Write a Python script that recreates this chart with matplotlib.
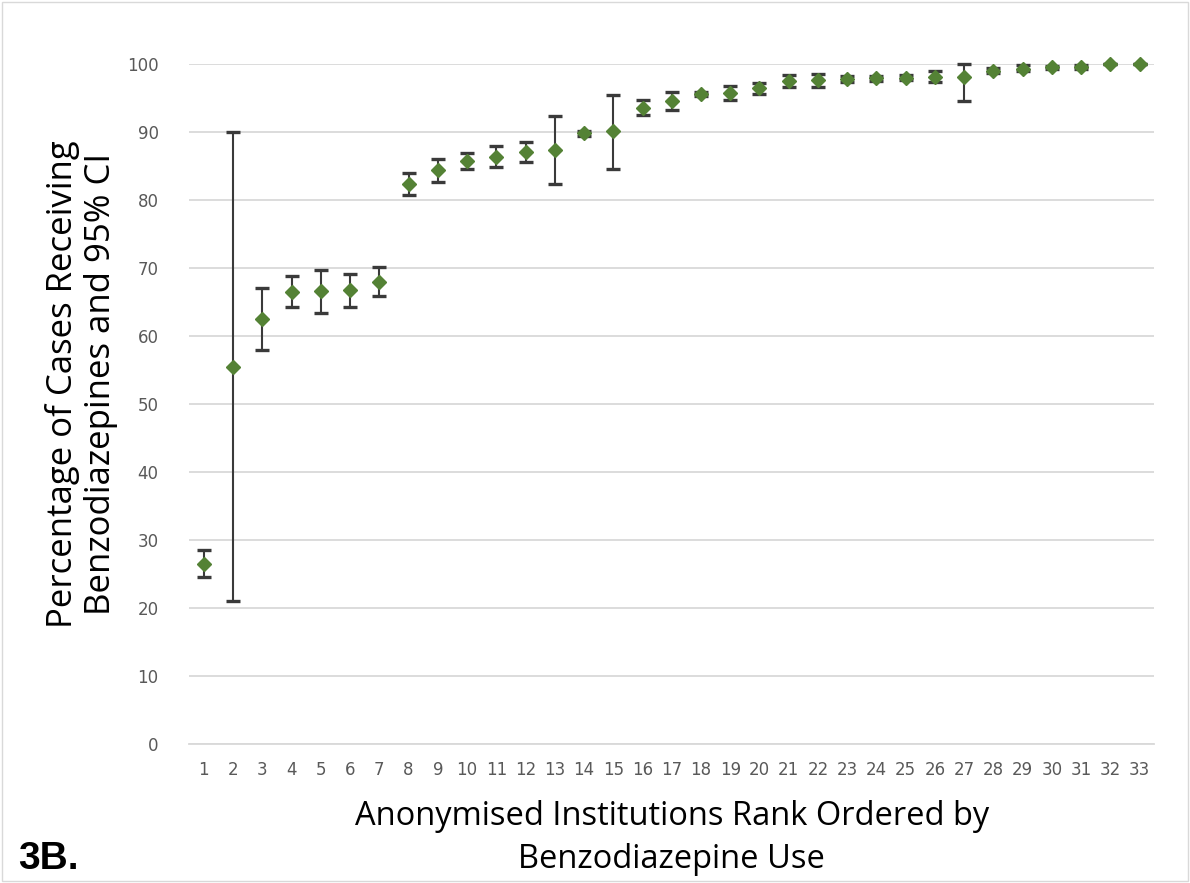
import matplotlib.pyplot as plt
import numpy as np

ranks = np.arange(1, 34)
pct = [26.4, 55.5, 62.5, 66.5, 66.6, 66.8, 68.0, 82.4, 84.4, 85.8, 86.3, 87.1,
       87.3, 89.8, 90.1, 93.6, 94.6, 95.6, 95.8, 96.4, 97.5, 97.6, 97.8, 97.9,
       98.0, 98.1, 98.1, 99.0, 99.3, 99.5, 99.6, 100.0, 100.0]
ci_low = [24.5, 21.0, 58.0, 64.2, 63.4, 64.3, 65.9, 80.7, 82.7, 84.6, 84.8, 85.6,
          82.4, 89.4, 84.6, 92.5, 93.2, 95.3, 94.7, 95.6, 96.6, 96.6, 97.4, 97.5,
          97.6, 97.3, 94.5, 98.7, 98.9, 99.3, 99.3, 100.0, 100.0]
ci_high = [28.5, 90.0, 67.0, 68.8, 69.7, 69.1, 70.2, 84.0, 86.1, 86.9, 87.9, 88.5,
           92.3, 90.2, 95.4, 94.7, 95.9, 95.9, 96.8, 97.2, 98.4, 98.5, 98.2, 98.3,
           98.4, 98.9, 100.0, 99.4, 99.8, 99.7, 99.8, 100.0, 100.0]

pct = np.array(pct)
yerr = [pct - np.array(ci_low), np.array(ci_high) - pct]

fig = plt.figure(figsize=(11.9, 8.83), dpi=100)
ax = fig.add_axes([0.159, 0.1574, 0.811, 0.7701])

eb = ax.errorbar(ranks, pct, yerr=yerr, fmt='none', ecolor='#3a3a3a', elinewidth=1.5,
                 capsize=5, capthick=2.4, clip_on=False, zorder=3)
for cap in eb[1]:
    cap.set_color('black')
ax.plot(ranks, pct, 'D', color='#548235', markersize=7, clip_on=False, zorder=4)

ax.set_xlim(0.5, 33.5)
ax.set_ylim(0, 100)
ax.set_yticks(range(0, 101, 10))
ax.set_xticks(ranks)
ax.grid(axis='y', color='#d9d9d9', linewidth=1.3)
ax.set_axisbelow(True)
for s in ['top', 'right', 'left']:
    ax.spines[s].set_visible(False)
ax.spines['bottom'].set_color('#d9d9d9')
ax.spines['bottom'].set_linewidth(1.3)
ax.tick_params(length=0, labelsize=12, colors='#595959', pad=12)
ax.tick_params(axis='y', pad=22)

ax.set_ylabel('Percentage of Cases Receiving\nBenzodiazepines and 95% CI',
              fontsize=25, family='Open Sans', linespacing=1.15)
ax.yaxis.set_label_coords(-0.074, 0.529)
ax.set_xlabel('Anonymised Institutions Rank Ordered by\nBenzodiazepine Use',
              fontsize=23.5, family='Open Sans', linespacing=1.4)
ax.xaxis.set_label_coords(0.5, -0.083)
ax.xaxis.label.set_verticalalignment('top')

fig.text(0.015, 0.016, '3B.', fontsize=28, fontweight='bold', family='Liberation Sans')

border = plt.Rectangle((0.002, 0.002), 0.996, 0.996, transform=fig.transFigure,
                       fill=False, edgecolor='#d9d9d9', linewidth=1)
fig.patches.append(border)

fig.savefig('out.png', dpi=100)
